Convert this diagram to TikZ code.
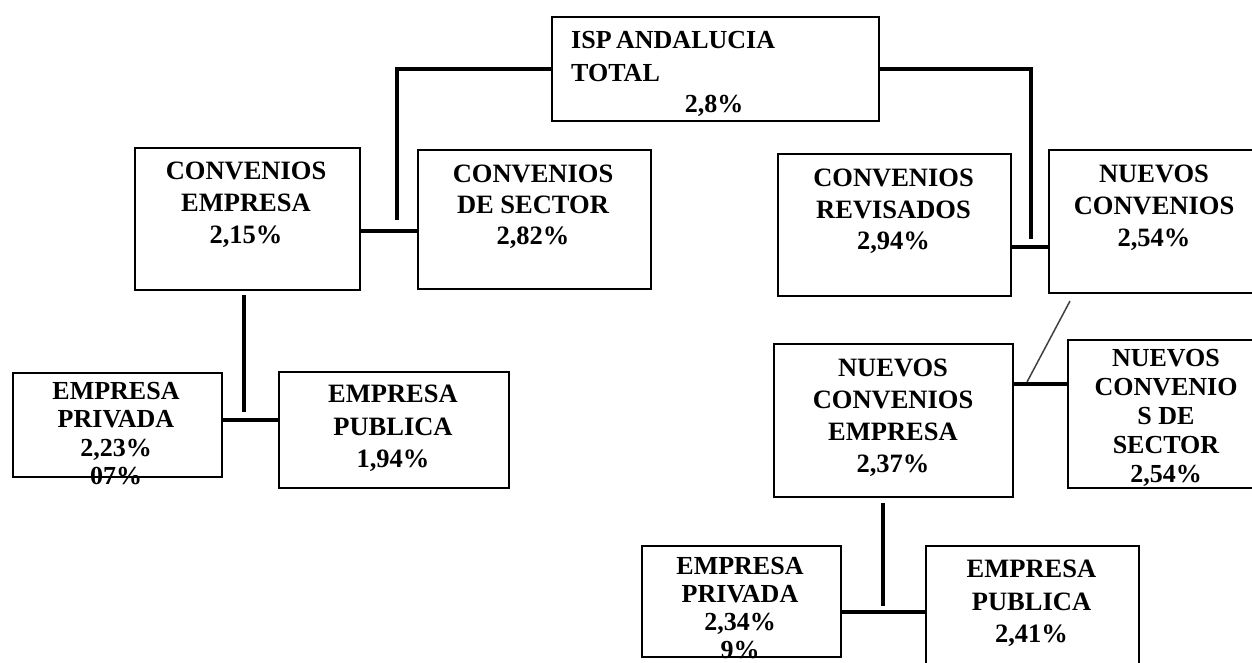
\documentclass[tikz,border=0pt]{standalone}
\usepackage{fontspec}
\setmainfont{Liberation Serif}
\begin{document}
\begin{tikzpicture}[x=1pt,y=-1pt,
  box/.style={draw, line width=1.9pt, inner sep=0pt, anchor=north west},
  lbl/.style={inner sep=0pt, anchor=north, align=center, font=\bfseries\fontsize{26.5}{32}\selectfont},
  lbltight/.style={inner sep=0pt, anchor=north, align=center, font=\bfseries\fontsize{26}{28.5}\selectfont},
  conn/.style={line width=3.2pt},
  thin conn/.style={line width=1.5pt, draw=black!75},
]
\useasboundingbox (0,0) rectangle (1252,663);
\clip (0,0) rectangle (1252,663);
% boxes
\node[box, minimum width=327pt, minimum height=104pt] (isp)  at (551,16)  {};
\node[box, minimum width=225pt, minimum height=142pt] (ce)   at (134,147) {};
\node[box, minimum width=233pt, minimum height=139pt] (cds)  at (417,149) {};
\node[box, minimum width=233pt, minimum height=142pt] (cr)   at (777,153) {};
\node[box, minimum width=212pt, minimum height=143pt] (nc)   at (1048,149) {};
\node[box, minimum width=239pt, minimum height=153pt] (nce)  at (773,343) {};
\node[box, minimum width=198pt, minimum height=148pt] (ncds) at (1067,339) {};
\node[box, minimum width=209pt, minimum height=104pt] (ep1)  at (12,372)  {};
\node[box, minimum width=230pt, minimum height=116pt] (epu1) at (278,371) {};
\node[box, minimum width=199pt, minimum height=111pt] (ep2)  at (641,545) {};
\node[box, minimum width=213pt, minimum height=130pt] (epu2) at (925,545) {};
% texts
\node[inner sep=0pt, anchor=north west, align=left, font=\bfseries\fontsize{26}{33}\selectfont] (isptxt) at (571,31) {ISP\hspace{-2pt} ANDALUCIA\\TOTAL};
\node[inner sep=0pt, anchor=base, font=\bfseries\fontsize{26}{33}\selectfont] (isppct) at (714,113) {2,8\%};
\node[lbl] (cetxt)  at (246,162)  {CONVENIOS\\EMPRESA\\2,15\%};
\node[lbl, font=\bfseries\fontsize{26.5}{31}\selectfont] (cdstxt) at (533,165) {CONVENIOS\\DE SECTOR\\2,82\%};
\node[lbl, font=\bfseries\fontsize{26.5}{31.5}\selectfont] (crtxt)  at (893.5,169) {CONVENIOS\\REVISADOS\\2,94\%};
\node[lbl] (nctxt)  at (1154,165) {NUEVOS\\CONVENIOS\\2,54\%};
\node[lbl] (ncetxt) at (893,359)  {NUEVOS\\CONVENIOS\\EMPRESA\\2,37\%};
\node[lbltight, font=\bfseries\fontsize{26}{29}\selectfont] (ncdstxt) at (1166,349) {NUEVOS\\CONVENIO\\S DE\\SECTOR\\2,54\%};
\node[lbltight] (ep1txt) at (116,382) {EMPRESA\\PRIVADA\\2,23\%\\07\%};
\node[lbl, font=\bfseries\fontsize{26.5}{32.5}\selectfont] (epu1txt) at (393,385) {EMPRESA\\PUBLICA\\1,94\%};
\node[lbltight, font=\bfseries\fontsize{26}{28}\selectfont] (ep2txt) at (740,557) {EMPRESA\\PRIVADA\\2,34\%\\9\%};
\node[lbl, font=\bfseries\fontsize{26.5}{32.5}\selectfont] (epu2txt) at (1031.5,560) {EMPRESA\\PUBLICA\\2,41\%};
% connector helper coordinates
\coordinate (lend) at (397,220);
\coordinate (rend) at (1031,239);
\coordinate (h1) at (0,231);
\coordinate (h2) at (0,247);
\coordinate (h3) at (0,384);
\coordinate (h4) at (0,420);
\coordinate (h5) at (0,612);
\coordinate (v1a) at (244,295);
\coordinate (v1b) at (244,412);
\coordinate (v2a) at (883,503);
\coordinate (v2b) at (883,606);
\coordinate (da) at (1070,301);
\coordinate (db) at (1027,382);
% connectors
\draw[conn] (isp.west) -| (lend);
\draw[conn] (isp.east) -| (rend);
\draw[conn] (ce.east |- h1) -- (cds.west |- h1);
\draw[conn] (cr.east |- h2) -- (nc.west |- h2);
\draw[conn] (nce.east |- h3) -- (ncds.west |- h3);
\draw[conn] (ep1.east |- h4) -- (epu1.west |- h4);
\draw[conn] (ep2.east |- h5) -- (epu2.west |- h5);
\draw[conn] (v1a) -- (v1b);
\draw[conn] (v2a) -- (v2b);
\draw[thin conn] (da) -- (db);
\end{tikzpicture}
\end{document}
